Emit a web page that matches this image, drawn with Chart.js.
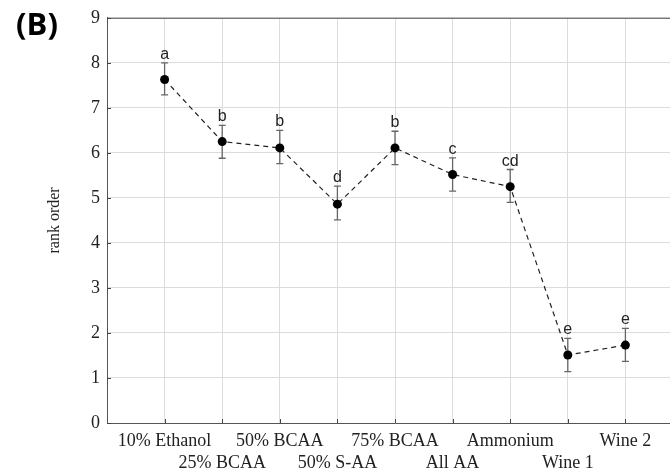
<!DOCTYPE html>
<html>
<head>
<meta charset="utf-8">
<script src="https://cdn.jsdelivr.net/npm/chart.js@4.4.1/dist/chart.umd.min.js"></script>
<style>
html,body{margin:0;padding:0;background:#fff;overflow:hidden;width:670px;height:472px;}
canvas{display:block;}
</style>
</head>
<body>
<canvas id="c" width="700" height="472" style="width:700px;height:472px"></canvas>
<script>
const categories = ["10% Ethanol","25% BCAA","50% BCAA","50% S-AA","75% BCAA","All AA","Ammonium","Wine 1","Wine 2"];
const meanRank = [7.63, 6.25, 6.11, 4.86, 6.11, 5.52, 5.25, 1.51, 1.73];
const errUpper = [8.00, 6.61, 6.50, 5.26, 6.48, 5.89, 5.63, 1.88, 2.10];
const errLower = [7.29, 5.88, 5.76, 4.51, 5.74, 5.15, 4.90, 1.14, 1.37];
const groupLetters = ["a","b","b","d","b","c","cd","e","e"];
const yTicks = [0,1,2,3,4,5,6,7,8,9];

const serif = "'Liberation Serif', 'Times New Roman', serif";
const sans = "'Liberation Sans', Arial, sans-serif";

const extras = {
  id: 'extras',
  beforeDatasetsDraw(chart) {
    const ctx = chart.ctx, xs = chart.scales.x, ys = chart.scales.y, a = chart.chartArea;
    ctx.save();
    // top frame line
    ctx.strokeStyle = '#555';
    ctx.lineWidth = 1;
    ctx.beginPath();
    ctx.moveTo(a.left, a.top + 0.5);
    ctx.lineTo(a.right, a.top + 0.5);
    ctx.stroke();
    // small inner tick marks
    ctx.strokeStyle = '#444';
    ctx.beginPath();
    categories.forEach((c, i) => {
      const px = Math.round(xs.getPixelForValue(i + 1)) + 0.5;
      ctx.moveTo(px, a.bottom);
      ctx.lineTo(px, a.bottom - 4);
    });
    yTicks.forEach(v => {
      const py = Math.round(ys.getPixelForValue(v)) + 0.5;
      ctx.moveTo(a.left, py);
      ctx.lineTo(a.left + 4, py);
    });
    ctx.stroke();
    // error bars
    ctx.strokeStyle = '#666';
    ctx.lineWidth = 1.3;
    ctx.beginPath();
    meanRank.forEach((m, i) => {
      const px = xs.getPixelForValue(i + 1);
      const pt = ys.getPixelForValue(errUpper[i]);
      const pb = ys.getPixelForValue(errLower[i]);
      ctx.moveTo(px, pt); ctx.lineTo(px, pb);
      ctx.moveTo(px - 3.5, pt); ctx.lineTo(px + 3.5, pt);
      ctx.moveTo(px - 3.5, pb); ctx.lineTo(px + 3.5, pb);
    });
    ctx.stroke();
    // group letters
    ctx.fillStyle = '#222';
    ctx.font = '16px ' + sans;
    ctx.textAlign = 'center';
    ctx.textBaseline = 'alphabetic';
    groupLetters.forEach((l, i) => {
      const px = xs.getPixelForValue(i + 1);
      const pt = ys.getPixelForValue(errUpper[i]);
      ctx.fillText(l, px, pt - 4);
    });
    // panel label
    ctx.fillStyle = '#000';
    ctx.font = "bold 31px 'Open Sans', 'Liberation Sans', sans-serif";
    ctx.textAlign = 'center';
    ctx.textBaseline = 'middle';
    ctx.fillText('(B)', 37, 26);
    ctx.restore();
  }
};

new Chart(document.getElementById('c'), {
  type: 'line',
  data: {
    datasets: [{
      data: meanRank.map((v, i) => ({x: i + 1, y: v})),
      borderColor: '#222',
      borderWidth: 1.2,
      borderDash: [5, 4],
      pointRadius: 4.5,
      pointBackgroundColor: '#000',
      pointBorderColor: '#000',
      pointBorderWidth: 0,
      tension: 0,
      fill: false
    }]
  },
  options: {
    responsive: false,
    animation: false,
    devicePixelRatio: 1,
    layout: {padding: {top: 17, right: 17, left: 0, bottom: 0}},
    plugins: {legend: {display: false}, tooltip: {enabled: false}},
    scales: {
      x: {
        type: 'linear',
        min: 0, max: 10,
        afterBuildTicks(s) { s.ticks = categories.map((c, i) => ({value: i + 1})); },
        afterFit(s) { s.height = 49; },
        grid: {color: '#dcdcdc', lineWidth: 1, drawTicks: false},
        border: {color: '#555', width: 1},
        ticks: {
          autoSkip: false, maxRotation: 0, minRotation: 0, padding: 7,
          color: '#222',
          font: {family: serif, size: 18, lineHeight: 1.22},
          callback(v, i) { return i % 2 === 0 ? [categories[i], ''] : ['', categories[i]]; }
        }
      },
      y: {
        min: 0, max: 9,
        afterBuildTicks(s) { s.ticks = yTicks.map(v => ({value: v})); },
        afterFit(s) { s.width = 107; },
        grid: {color: '#dcdcdc', lineWidth: 1, drawTicks: false},
        border: {color: '#555', width: 1},
        ticks: {padding: 7, color: '#222', font: {family: serif, size: 18}},
        title: {display: true, text: 'rank order', color: '#222', font: {family: serif, size: 16}, padding: {top: 45, bottom: 0}}
      }
    }
  },
  plugins: [extras]
});
</script>
</body>
</html>
